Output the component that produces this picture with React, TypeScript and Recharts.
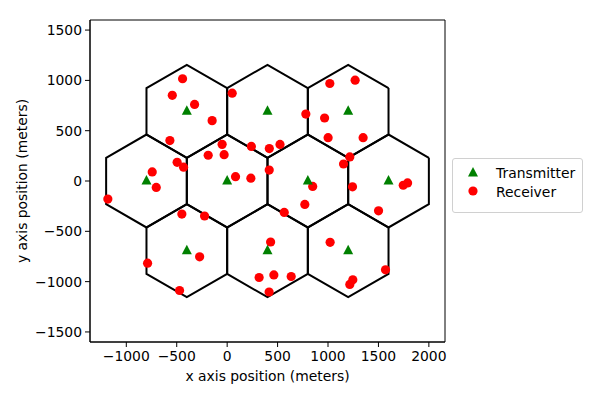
import React from 'react';
import { ScatterChart, Scatter, XAxis, YAxis, ReferenceArea } from 'recharts';

const transmitters = [
    { x: -800, y: 0 }, { x: 0, y: 0 }, { x: 800, y: 0 }, { x: 1600, y: 0 },
    { x: -400, y: 693 }, { x: 400, y: 693 }, { x: 1200, y: 693 },
    { x: -400, y: -693 }, { x: 400, y: -693 }, { x: 1200, y: -693 },
];

const receivers = [
    { x: -442, y: 1016 }, { x: -544, y: 851 }, { x: -323, y: 761 }, { x: -149, y: 600 },
    { x: 50, y: 873 }, { x: -568, y: 402 }, { x: -50, y: 364 }, { x: 240, y: 344 },
    { x: -188, y: 256 }, { x: -30, y: 262 }, { x: -496, y: 186 }, { x: -432, y: 137 },
    { x: -743, y: 90 }, { x: 83, y: 43 }, { x: 235, y: 28 }, { x: 418, y: 322 },
    { x: 524, y: 363 }, { x: 417, y: 109 }, { x: 1018, y: 969 }, { x: 1269, y: 1002 },
    { x: 780, y: 665 }, { x: 966, y: 626 }, { x: 1001, y: 431 }, { x: 1348, y: 431 },
    { x: 1216, y: 239 }, { x: 1154, y: 169 }, { x: 848, y: -54 }, { x: 1243, y: -58 },
    { x: 1746, y: -42 }, { x: 1789, y: -19 }, { x: 770, y: -233 }, { x: 566, y: -312 },
    { x: 431, y: -606 }, { x: 1501, y: -296 }, { x: 1021, y: -609 }, { x: 463, y: -933 },
    { x: 635, y: -949 }, { x: 416, y: -1103 }, { x: 1570, y: -883 }, { x: 1246, y: -982 },
    { x: 1216, y: -1028 }, { x: -703, y: -64 }, { x: -1183, y: -180 }, { x: -449, y: -329 },
    { x: -224, y: -348 }, { x: -273, y: -754 }, { x: -789, y: -817 }, { x: -472, y: -1088 },
    { x: 317, y: -959 },
];

const xTicks = [-1000, -500, 0, 500, 1000, 1500, 2000];
const yTicks = [-1500, -1000, -500, 0, 500, 1000, 1500];
const xDomain = [-1360, 2160];
const yDomain = [-1600, 1600];
const cellRadius = 800 / Math.sqrt(3);

// pointy-top hexagon outline around each transmitter
const hexagon = (c: { x: number; y: number }) =>
    [30, 90, 150, 210, 270, 330, 30].map((a) => ({
        x: c.x + cellRadius * Math.cos((a * Math.PI) / 180),
        y: c.y + cellRadius * Math.sin((a * Math.PI) / 180),
    }));

const fmt = (v: number) => (v < 0 ? '\u2212' + Math.abs(v) : String(v));

const FONT = 13.9;

const Triangle = (props: any) => {
    const { cx, cy } = props;
    return <polygon points={`${cx},${cy - 6} ${cx - 5},${cy + 3.5} ${cx + 5},${cy + 3.5}`} fill="#008000" />;
};

const Dot = (props: any) => <circle cx={props.cx} cy={props.cy} r={4.6} fill="#ff0000" />;

const LegendBox = () => (
    <div style={{
        position: 'absolute', left: 452, top: 158,
        border: '1px solid #d0d0d0', borderRadius: 3, background: '#fff', width: 131, height: 55,
        fontFamily: 'DejaVu Sans', color: '#000', boxSizing: 'border-box',
    }}>
        <svg width={129} height={53} style={{ display: 'block' }}>
            <polygon points="20,8 15,17.5 25,17.5" fill="#008000" />
            <text x={43} y={18.5} fontSize={FONT}>Transmitter</text>
            <circle cx={20} cy={32} r={4.6} fill="#ff0000" />
            <text x={43} y={37.5} fontSize={FONT}>Receiver</text>
        </svg>
    </div>
);

const tickStyle = { fontSize: FONT, fill: '#000', fontFamily: 'DejaVu Sans' };

const App: React.FC = () => {
    return (
        <div style={{ position: 'absolute', left: 0, top: 0, width: 598, height: 399, background: '#fff' }}>
            <ScatterChart width={598} height={399} margin={{ top: 20, right: 153, bottom: 17, left: 20 }}>
                <XAxis
                    type="number" dataKey="x" domain={xDomain} ticks={xTicks} allowDataOverflow
                    tickFormatter={fmt} tick={tickStyle} tickMargin={4} tickSize={5} height={40}
                    axisLine={{ stroke: '#000' }} tickLine={{ stroke: '#000' }}
                    label={{
                        content: ({ viewBox }: any) => (
                            <text x={viewBox.x + viewBox.width / 2} y={viewBox.y + 38.5} textAnchor="middle"
                                fontSize={FONT} fontFamily="DejaVu Sans" fill="#000">x axis position (meters)</text>
                        ),
                    }}
                />
                <YAxis
                    type="number" dataKey="y" domain={yDomain} ticks={yTicks} allowDataOverflow
                    tickFormatter={fmt} tick={tickStyle} tickMargin={3} tickSize={5} width={70}
                    axisLine={{ stroke: '#000' }} tickLine={{ stroke: '#000' }}
                    label={{
                        content: ({ viewBox }: any) => {
                            const cx = 22;
                            const cy = viewBox.y + viewBox.height / 2;
                            return (
                                <text x={cx} y={cy} transform={`rotate(-90, ${cx}, ${cy})`} textAnchor="middle"
                                    dominantBaseline="central" fontSize={FONT} fontFamily="DejaVu Sans" fill="#000">
                                    y axis position (meters)
                                </text>
                            );
                        },
                    }}
                />
                <ReferenceArea x1={xDomain[0]} x2={xDomain[1]} y1={yDomain[0]} y2={yDomain[1]}
                    fill="none" stroke="#000" strokeWidth={1} ifOverflow="visible" />
                {transmitters.map((t, i) => (
                    <Scatter key={'hex' + i} data={hexagon(t)} line={{ stroke: '#000', strokeWidth: 2 }}
                        shape={() => <g />} isAnimationActive={false} legendType="none" />
                ))}
                <Scatter name="Receiver" data={receivers} shape={Dot} isAnimationActive={false} />
                <Scatter name="Transmitter" data={transmitters} shape={Triangle} isAnimationActive={false} />
            </ScatterChart>
            <LegendBox />
        </div>
    );
};

export default App;
